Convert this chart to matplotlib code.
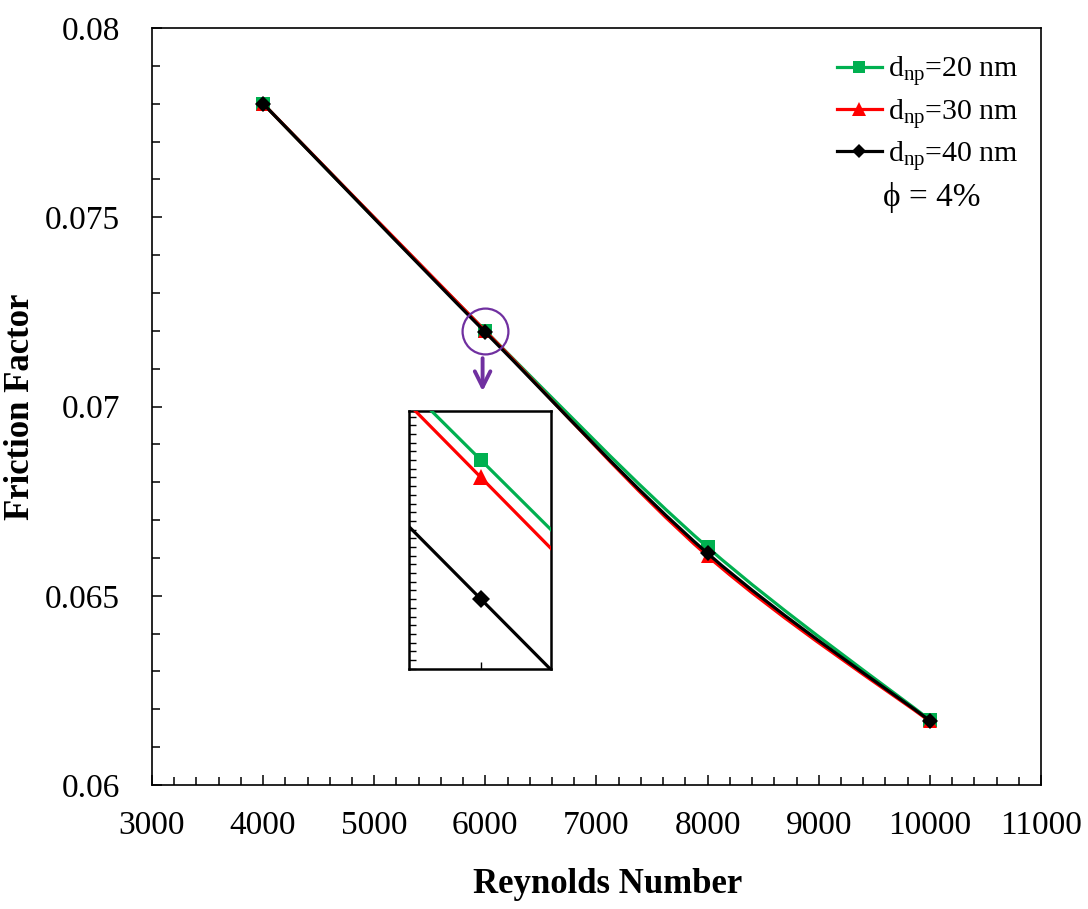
import numpy as np
import matplotlib
matplotlib.use("Agg")
import matplotlib.pyplot as plt
from matplotlib.path import Path
from matplotlib.patches import PathPatch
from matplotlib.ticker import MultipleLocator, NullFormatter
from matplotlib.lines import Line2D

plt.rcParams['font.family'] = ['Liberation Serif', 'DejaVu Serif']
plt.rcParams['mathtext.fontset'] = 'custom'
plt.rcParams['mathtext.rm'] = 'Liberation Serif'
plt.rcParams['mathtext.it'] = 'Liberation Serif:italic'

# ---- data ----
reynolds = [4000, 6000, 8000, 10000]
f_20nm = [0.0780, 0.07200, 0.06628, 0.06172]
f_30nm = [0.0780, 0.071995, 0.06605, 0.06168]
f_40nm = [0.0780, 0.07196, 0.06612, 0.06170]
series_labels = ['d$_{\\rm np}$=20 nm', 'd$_{\\rm np}$=30 nm', 'd$_{\\rm np}$=40 nm']
x_ticks = [3000, 4000, 5000, 6000, 7000, 8000, 9000, 10000, 11000]
y_ticks = [0.06, 0.065, 0.07, 0.075, 0.08]
y_tick_labels = ['0.06', '0.065', '0.07', '0.075', '0.08']

colors = ['#00B050', '#FF0000', '#000000']
markers = ['s', '^', 'D']
msizes_main = [10.0, 10.5, 8.5]
msizes_legend = [8.5, 9.5, 7.5]
msizes_inset = [10.5, 11.5, 9.0]


def smooth_path(xs, ys):
    pts = np.column_stack([xs, ys]).astype(float)
    n = len(pts)
    verts = [pts[0]]
    codes = [Path.MOVETO]
    for i in range(n - 1):
        p0 = pts[i - 1] if i > 0 else pts[i]
        p1 = pts[i]
        p2 = pts[i + 1]
        p3 = pts[i + 2] if i + 2 < n else pts[i + 1]
        c1 = p1 + (p2 - p0) / 6.0
        c2 = p2 - (p3 - p1) / 6.0
        verts += [c1, c2, p2]
        codes += [Path.CURVE4] * 3
    return Path(verts, codes)


def draw_series(ax, lw, sizes, zorder_base=3):
    for k, (ys, c, m, ms) in enumerate(zip([f_20nm, f_30nm, f_40nm], colors, markers, sizes)):
        patch = PathPatch(smooth_path(reynolds, ys), facecolor='none', edgecolor=c,
                          lw=lw, zorder=zorder_base + k, capstyle='butt')
        ax.add_patch(patch)
        ax.plot(reynolds, ys, linestyle='none', marker=m, color=c, markersize=ms,
                markeredgewidth=0, zorder=zorder_base + k + 0.5)


fig = plt.figure(figsize=(10.88, 9.09), dpi=100)
ax = fig.add_axes([0.1397, 0.1364, 0.8171, 0.8328])

draw_series(ax, 2.3, msizes_main)

ax.set_xlim(3000, 11000)
ax.set_ylim(0.06, 0.08)
ax.set_xticks(x_ticks)
ax.set_xticklabels([str(v) for v in x_ticks], fontsize=24)
ax.set_yticks(y_ticks)
ax.set_yticklabels(y_tick_labels, fontsize=24)
ax.xaxis.set_minor_locator(MultipleLocator(200))
ax.yaxis.set_minor_locator(MultipleLocator(0.001))
ax.tick_params(which='major', direction='in', length=7.5, width=1.1, top=False, right=False)
ax.tick_params(which='minor', direction='in', length=5.5, width=1.1, top=False, right=False)
ax.tick_params(axis='x', which='major', pad=18)
ax.tick_params(axis='y', which='major', pad=23)
for s in ax.spines.values():
    s.set_linewidth(1.2)

ax.set_xlabel('Reynolds Number', fontsize=25, fontweight='bold', labelpad=20)
ax.xaxis.label.set_x(0.512)
ax.set_ylabel('Friction Factor', fontsize=25, fontweight='bold', labelpad=6)

# legend
handles = [Line2D([], [], color=c, marker=m, lw=2.3, markersize=ms, markeredgewidth=0)
           for c, m, ms in zip(colors, markers, msizes_legend)]
leg = ax.legend(handles, series_labels, loc='upper right', bbox_to_anchor=(0.998, 0.993),
                frameon=False, fontsize=21.5, handlelength=1.5, handletextpad=0.2,
                labelspacing=0.28, borderaxespad=0.3)
ax.text(0.877, 0.776, '\u03d5 = 4%', transform=ax.transAxes, fontsize=24,
        ha='center', va='center')

# purple highlight circle and arrow
purple = '#7030A0'
ax.plot([6000], [0.0720], marker='o', markersize=33, markerfacecolor='none',
        markeredgecolor=purple, markeredgewidth=1.6, zorder=10)
ax.annotate('', xy=(5975, 0.07033), xytext=(5975, 0.07135),
            arrowprops=dict(arrowstyle='->', color=purple, lw=2.8, mutation_scale=28),
            zorder=10)

# inset
axin = fig.add_axes([0.3759, 0.2640, 0.1305, 0.2838])
draw_series(axin, 2.3, msizes_inset)
axin.set_xlim(5992.98, 6006.83)
axin.set_ylim(0.0719399, 0.0720141)
axin.xaxis.set_major_locator(MultipleLocator(10))
axin.yaxis.set_major_locator(MultipleLocator(2.5e-6))
axin.xaxis.set_major_formatter(NullFormatter())
axin.yaxis.set_major_formatter(NullFormatter())
axin.tick_params(direction='in', length=5, width=1.0, top=False, right=False)
for s in axin.spines.values():
    s.set_linewidth(1.8)

fig.savefig('out.png', dpi=100)
